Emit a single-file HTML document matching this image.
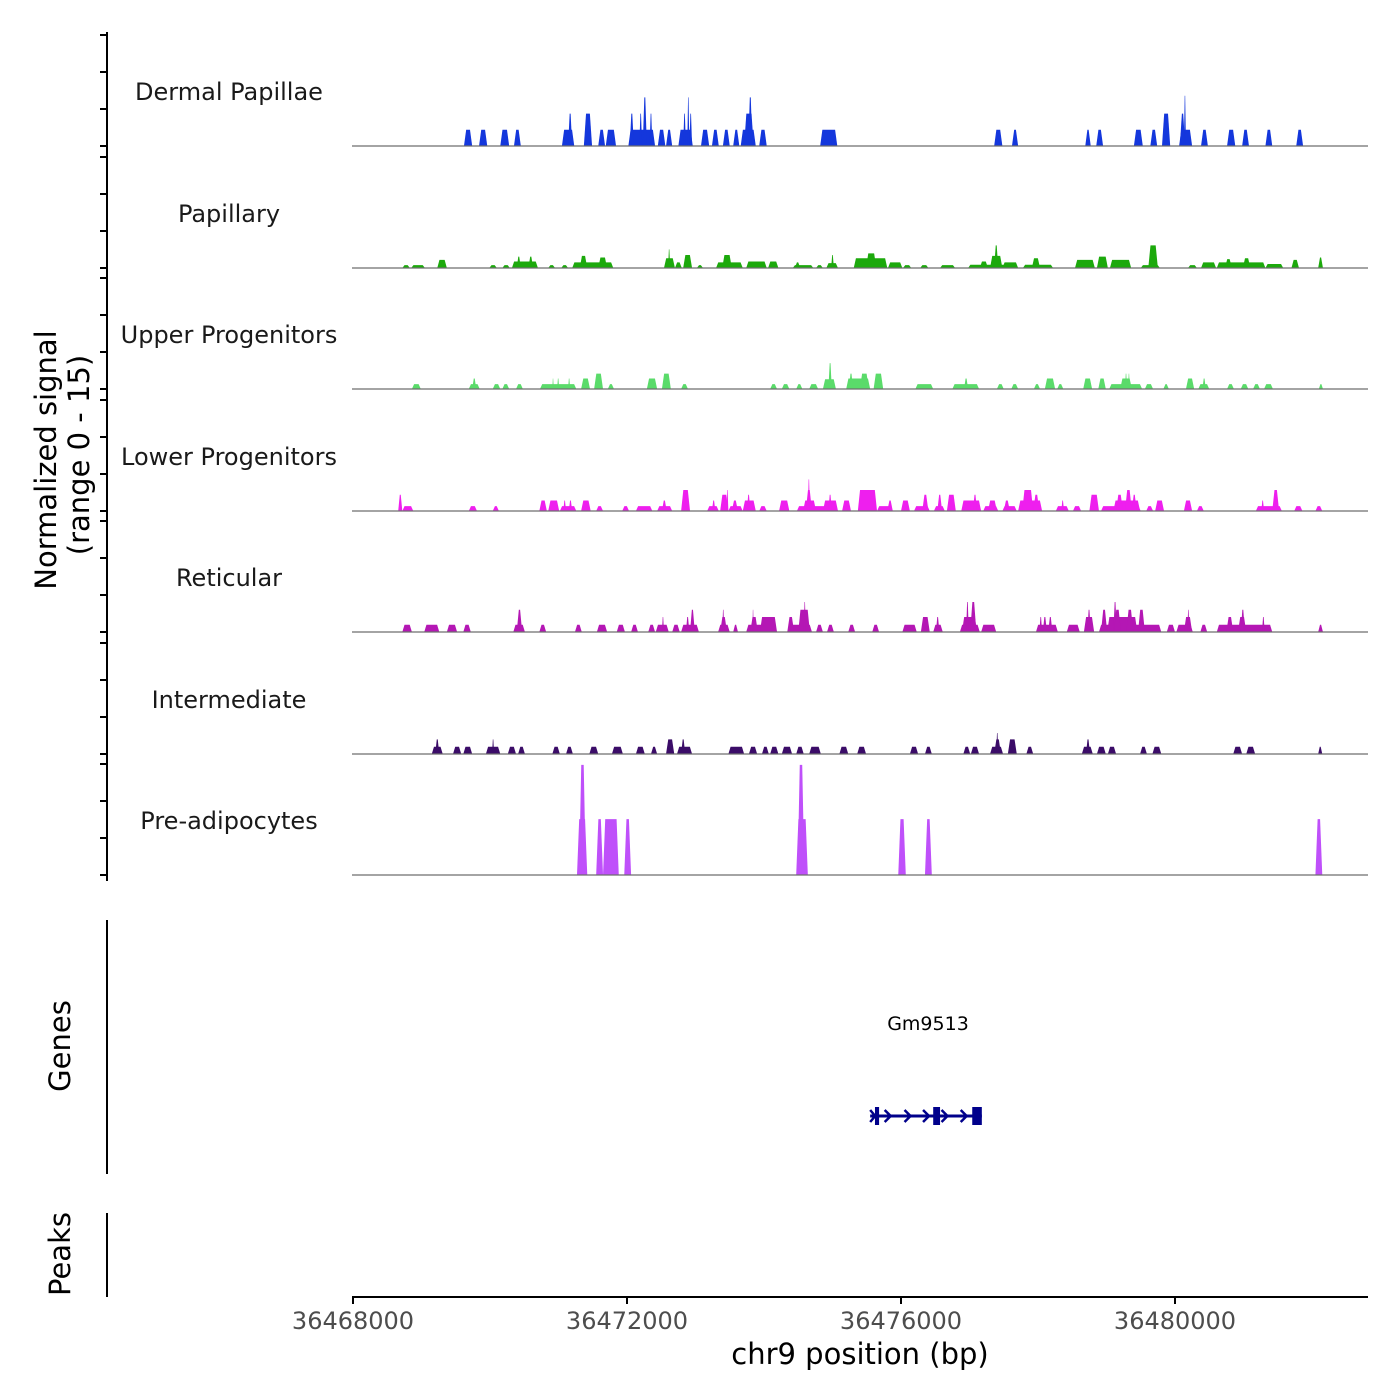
<!DOCTYPE html>
<html><head><meta charset="utf-8"><style>
html,body{margin:0;padding:0;background:#fff}
svg{display:block}
text{font-family:"DejaVu Sans","Liberation Sans",sans-serif}
</style></head><body>
<svg id="chart" width="1400" height="1400" viewBox="0 0 1400 1400">
<g id="tracks"></g>
<g id="yaxis"></g>
<text x="0" y="0" transform="translate(56,460) rotate(-90)" text-anchor="middle" font-size="29" fill="#000">Normalized signal</text>
<text x="0" y="0" transform="translate(89,455) rotate(-90)" text-anchor="middle" font-size="29" fill="#000">(range 0 - 15)</text>
<line x1="107" y1="920" x2="107" y2="1174" stroke="#000" stroke-width="2"/>
<text transform="translate(70,1046) rotate(-90)" text-anchor="middle" font-size="29" fill="#000">Genes</text>
<line x1="107" y1="1213" x2="107" y2="1297" stroke="#000" stroke-width="2"/>
<text transform="translate(70,1254) rotate(-90)" text-anchor="middle" font-size="29" fill="#000">Peaks</text>
<g id="gene"></g>
<g id="xaxis"></g>
<text x="860" y="1364" text-anchor="middle" font-size="29" fill="#000">chr9 position (bp)</text>
</svg>
<script>
// region and scales
const regionStart = 36468000;
const xTicks = [36468000, 36472000, 36476000, 36480000];
const trackNames = ["Dermal Papillae","Papillary","Upper Progenitors","Lower Progenitors","Reticular","Intermediate","Pre-adipocytes"];
const trackColors = ["#1437dc","#1ca90c","#5adb6a","#ee1fee","#b417b4","#3b0c68","#bf50fa"];
// peaks: [start offset bp, end offset bp, signal]
const dermalPapillae = [[1620,1740,2],[1840,1960,2],[2150,2280,2],[2350,2450,2],[3050,3230,2],[3140,3200,4],[3370,3490,4],[3580,3680,2],[3690,3840,2],[4020,4410,2],[4040,4100,4],[4180,4220,4],[4230,4290,6],[4330,4370,4],[4450,4560,2],[4570,4660,2],[4750,4960,2],[4820,4860,4],[4880,4910,6],[4910,4950,4],[5080,5200,2],[5240,5340,2],[5400,5500,2],[5550,5640,2],[5660,5880,2],[5710,5850,4],[5770,5830,6],[5930,6040,2],[6820,7070,2],[9360,9480,2],[9620,9710,2],[10690,10770,2],[10850,10950,2],[11400,11530,2],[11640,11740,2],[11810,11930,4],[12060,12250,2],[12070,12150,4],[12130,12160,6.2],[12380,12480,2],[12760,12880,2],[12980,13080,2],[13320,13420,2],[13770,13870,2]];
const papillary = [[720,830,.35],[850,1050,.35],[1230,1370,1],[1990,2100,.35],[2180,2290,.35],[2320,2700,.8],[2390,2450,1.4],[2560,2630,1.4],[2850,2950,.35],[3040,3140,.35],[3200,3800,.7],[3310,3420,1.5],[3580,3710,1.3],[4540,4700,1.2],[4600,4630,2.3],[4700,4800,.7],[4820,4950,1.6],[5020,5110,.35],[5300,5690,.7],[5390,5530,1.6],[5740,6040,.8],[6060,6210,.8],[6420,6720,.35],[6450,6530,.7],[6760,6860,.35],[6910,7080,.6],[6980,7020,1.6],[7310,7800,1.2],[7490,7640,1.8],[7810,8020,.7],[8030,8150,.35],[8280,8400,.35],[8570,8790,.35],[8980,9710,.4],[9150,9270,.8],[9300,9480,1.5],[9360,9420,2.8],[9480,9710,.7],[9780,10220,.4],[9910,10030,1.2],[10540,10830,1],[10860,11020,1.4],[11050,11360,1],[11500,11780,.35],[11610,11750,2.8],[12190,12320,.35],[12380,12600,.7],[12610,13320,.7],[12730,12830,1.1],[12990,13100,1.2],[13320,13580,.5],[13700,13810,1],[14090,14160,1.3]];
const upperProgenitors = [[860,990,.6],[1690,1850,.6],[1740,1800,1.3],[2040,2150,.6],[2180,2280,.6],[2380,2480,.6],[2730,3260,.6],[2910,2930,1.3],[2980,3010,1.3],[3140,3170,1.3],[3330,3460,1.3],[3520,3650,1.9],[3720,3810,.6],[4290,4440,1.3],[4510,4640,1.9],[4790,4890,.6],[6090,6190,.6],[6260,6370,.6],[6470,6560,.6],[6660,6790,.6],[6860,7050,1.2],[6940,6990,3.2],[7200,7550,1.3],[7240,7300,1.9],[7400,7530,1.9],[7600,7740,1.9],[8210,8470,.6],[8750,9140,.6],[8920,8980,1.3],[9400,9500,.6],[9610,9710,.6],[9940,10030,.6],[10100,10250,1.3],[10280,10370,.6],[10660,10790,1.3],[10880,10990,1.3],[11040,11520,.6],[11200,11370,1.3],[11270,11300,1.9],[11315,11340,1.9],[11560,11680,.6],[11830,11910,.6],[12160,12280,1.3],[12340,12500,.6],[12400,12450,1.3],[12760,12860,.6],[12960,13070,.6],[13140,13240,.6],[13300,13430,.6],[14100,14160,.6]];
const lowerProgenitors = [[660,720,2],[720,880,.6],[1690,1810,.6],[2040,2130,.6],[2720,2830,1.3],[2850,3010,1.3],[3020,3260,.6],[3070,3110,1.3],[3150,3200,1.3],[3330,3470,1.3],[3550,3650,.6],[3930,4030,.6],[4130,4370,.6],[4440,4660,.6],[4510,4580,1.3],[4790,4920,2.6],[5170,5340,.6],[5240,5290,1.3],[5360,5480,2],[5450,5480,2.6],[5480,5690,.6],[5530,5620,1.3],[5690,5880,1.3],[5750,5800,2],[5930,6040,.6],[6220,6370,1.3],[6480,7080,.6],[6570,6760,1.3],[6610,6700,2.6],[6640,6670,3.9],[6860,7080,1.3],[6940,6990,2],[7140,7270,1.3],[7370,7650,2.6],[7650,7880,.6],[7800,7880,1.3],[8000,8130,1.3],[8190,8420,.6],[8310,8400,2],[8480,8640,.6],[8530,8600,2],[8670,8800,2],[8880,9170,1.3],[9050,9110,2],[9200,9420,.6],[9270,9400,1.3],[9480,9690,.6],[9500,9590,1.3],[9710,10060,1.3],[9770,9930,2.6],[9930,10020,2],[10260,10450,.6],[10340,10380,1.3],[10510,10630,.6],[10750,10890,2],[10920,11500,.6],[11100,11490,1.3],[11140,11240,2],[11270,11370,2.6],[11370,11440,2],[11580,11680,.6],[11710,11840,1.3],[12130,12250,1.3],[12320,12420,.6],[13180,13560,.6],[13260,13300,1.3],[13420,13520,2.6],[13740,13860,.6],[14050,14150,.6]];
const reticular = [[720,860,.9],[1040,1260,.9],[1370,1520,.9],[1610,1720,.9],[2340,2510,.9],[2390,2470,2.75],[2720,2820,.9],[3240,3340,.9],[3560,3710,.9],[3850,3970,.9],[4060,4160,.9],[4310,4410,.9],[4420,4610,.9],[4510,4540,1.85],[4660,4770,.9],[4790,5050,.9],[4860,4910,1.85],[4920,4990,2.75],[5330,5500,.9],[5360,5460,1.85],[5390,5420,2.75],[5550,5620,.9],[5740,6190,.9],[5800,5910,1.85],[5830,5850,2.75],[5940,6190,1.85],[6340,6700,.9],[6340,6440,1.85],[6500,6670,2.75],[6580,6610,3.7],[6760,6860,.9],[6920,7020,.9],[7230,7330,.9],[7580,7680,.9],[8020,8230,.9],[8290,8420,1.85],[8470,8610,.9],[8510,8560,1.85],[8860,9150,.9],[8890,9110,1.85],[8950,8990,3.7],[9010,9100,3.7],[9170,9390,.9],[9970,10290,.9],[10020,10060,1.85],[10070,10130,1.85],[10150,10210,1.85],[10420,10610,.9],[10670,10820,1.85],[10720,10770,2.75],[10890,11800,.9],[10920,11010,2.75],[11010,11450,1.85],[11100,11150,3.7],[11110,11210,2.75],[11290,11390,2.75],[11460,11560,2.75],[11880,12000,.9],[12020,12260,.9],[12130,12250,1.85],[12180,12210,2.75],[12370,12470,.9],[12610,13420,.9],[12750,12850,1.85],[12920,13040,1.85],[12960,13020,2.75],[13270,13310,1.85],[14090,14160,.9]];
const intermediate = [[1150,1310,.9],[1200,1260,1.8],[1460,1580,.9],[1610,1740,.9],[1940,2150,.9],[2030,2060,1.8],[2260,2380,.9],[2410,2510,.9],[2910,3020,.9],[3110,3210,.9],[3450,3580,.9],[3780,3940,.9],[4130,4260,.9],[4350,4440,.9],[4570,4690,1.8],[4730,4950,.9],[4790,4850,1.8],[5480,5710,.9],[5780,5900,.9],[5970,6070,.9],[6090,6210,.9],[6260,6410,.9],[6470,6580,.9],[6660,6830,.9],[7100,7230,.9],[7360,7490,.9],[8130,8250,.9],[8350,8450,.9],[8910,9010,.9],[9020,9140,.9],[9300,9490,.9],[9360,9460,1.8],[9390,9420,2.6],[9560,9690,1.8],[9830,9930,.9],[10640,10800,.9],[10700,10760,1.8],[10860,10990,.9],[11020,11140,.9],[11490,11590,.9],[11670,11800,.9],[12850,12980,.9],[13040,13170,.9],[14090,14150,.9]];
const preAdipocytes = [[3270,3420,6.9],[3300,3400,13.6],[3550,3650,6.9],[3650,3880,6.9],[3960,4060,6.9],[6470,6640,6.9],[6490,6590,13.6],[7960,8070,6.9],[8350,8450,6.9],[14050,14150,6.9]];
const trackData = [dermalPapillae, papillary, upperProgenitors, lowerProgenitors, reticular, intermediate, preAdipocytes];
// gene model (bp offsets)
const geneName = "Gm9513";
const geneStart = 7550, geneEnd = 9180;
const geneExons = [[7620,7680],[8470,8570],[9040,9180]];
const chevrons = [7820,8110,8380,8650,8930];

const NS = "http://www.w3.org/2000/svg";
const X0 = 353, PXPERBP = 274/4000, XEND = 1368;
const x = bp => X0 + bp * PXPERBP;
const xAbs = bp => X0 + (bp - regionStart) * PXPERBP;
const baselines = [146, 268, 389, 511, 632, 754, 875];
const UNIT = 8.1;
const y = (i, v) => baselines[i] - v * UNIT;
function mk(tag, attrs, parent){const e=document.createElementNS(NS,tag);for(const k in attrs)e.setAttribute(k,attrs[k]);parent.appendChild(e);return e;}

const tracks = document.getElementById('tracks');
trackData.forEach((peaks, i) => {
  const g = mk('g', {}, tracks);
  
  
  peaks.forEach(p => {
    const a = x(p[0]), b = x(p[1]), t = y(i, p[2]), base = baselines[i];
    const r = Math.min(2.2, (b - a) / 2.6);
    const poly = mk('polygon', {points: `${a},${base} ${a+r},${t} ${b-r},${t} ${b},${base}`, fill: trackColors[i]}, g);
    
    
  });
  const ln = mk('line', {x1: 352, x2: XEND, y1: baselines[i], y2: baselines[i], stroke: '#6e6e6e', 'stroke-width': 1.2}, g);
  
  
  const lab = mk('text', {x: 229, y: baselines[i] - 46, 'text-anchor': 'middle', 'font-size': 24, fill: '#1a1a1a'}, g);
  lab.textContent = trackNames[i];
  
  
});

// y axis
const ya = document.getElementById('yaxis');
mk('line', {x1: 107, x2: 107, y1: 32, y2: 881, stroke: '#000', 'stroke-width': 2}, ya);
baselines.forEach(b => {
  for (let k = 0; k < 4; k++) {
    const tk = mk('line', {x1: 100, x2: 107, y1: b - k*37, y2: b - k*37, stroke: '#000', 'stroke-width': 2}, ya);
    
    
  }
});

// gene
const gg = document.getElementById('gene');
const gy = 1116;
const gl = mk('text', {x: 928, y: 1030, 'text-anchor': 'middle', 'font-size': 19, fill: '#000'}, gg);
gl.textContent = geneName;


mk('line', {x1: x(geneStart), x2: x(geneEnd), y1: gy, y2: gy, stroke: '#00008b', 'stroke-width': 3}, gg);
chevrons.forEach(c => {
  const cx = x(c);
  const ch = mk('polyline', {points: `${cx-4},${gy-6} ${cx+2},${gy} ${cx-4},${gy+6}`, fill: 'none', stroke: '#00008b', 'stroke-width': 2.5}, gg);
  
  
});
mk('polyline', {points: `${x(geneStart)},${gy-6} ${x(geneStart)+5},${gy} ${x(geneStart)},${gy+6}`, fill: 'none', stroke: '#00008b', 'stroke-width': 2.5}, gg);
geneExons.forEach(e => {
  const ex = mk('rect', {x: x(e[0]), y: gy-9, width: Math.max(3, x(e[1]) - x(e[0])), height: 18, fill: '#00008b'}, gg);
  
  
});

// x axis
const xa = document.getElementById('xaxis');
mk('line', {x1: 352, x2: XEND, y1: 1297, y2: 1297, stroke: '#000', 'stroke-width': 2}, xa);
xTicks.forEach(t => {
  const tk = mk('line', {x1: xAbs(t), x2: xAbs(t), y1: 1297, y2: 1304, stroke: '#000', 'stroke-width': 2}, xa);
  
  
  const tl = mk('text', {x: xAbs(t), y: 1329, 'text-anchor': 'middle', 'font-size': 24, fill: '#4d4d4d'}, xa);
  tl.textContent = t;
  
  
});
</script>
</body></html>
